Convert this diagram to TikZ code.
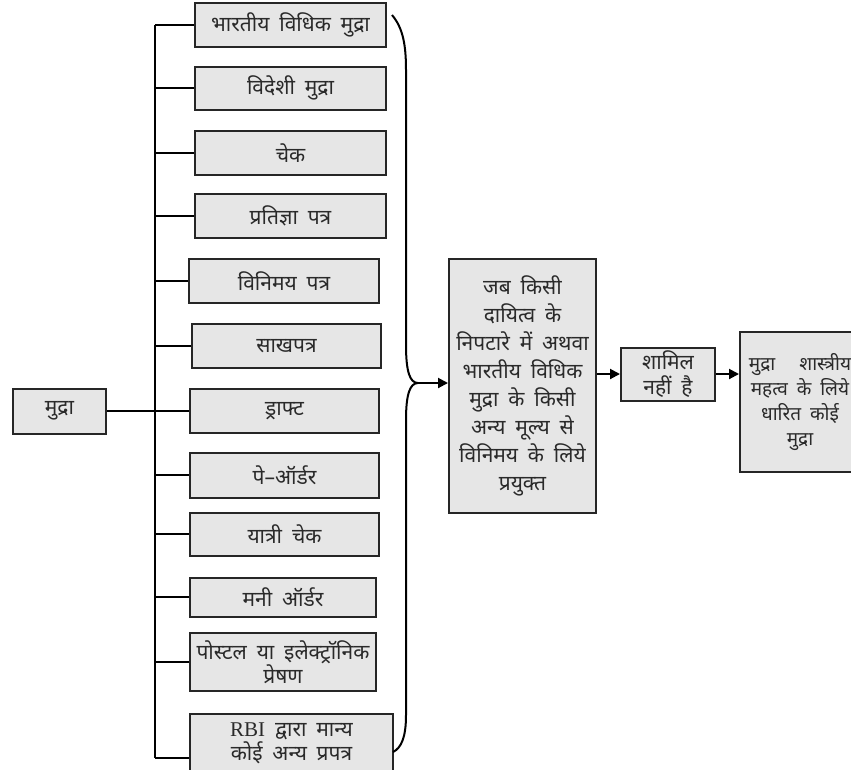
\documentclass[tikz,border=0pt]{standalone}
\usepackage{fontspec}
\usetikzlibrary{arrows.meta}
\newfontfamily\devfont[Script=Devanagari, WordSpace=1.8]{Noto Sans}
\newfontfamily\latfont{Liberation Serif}
\definecolor{boxfill}{HTML}{E6E6E6}
\definecolor{txt}{HTML}{2A2A2A}
\tikzset{
  box/.style={draw=black!85, line width=2pt, fill=boxfill, inner sep=0pt, align=center,
    text=txt, font={\devfont\fontsize{21}{27}\selectfont}},
  plain/.style={inner sep=0pt, align=center, text=txt, font={\devfont\fontsize{21}{26}\selectfont}},
  conn/.style={line width=2pt, black},
  arr/.style={conn, -{Triangle[length=10pt,width=10pt]}}
}
\begin{document}
\begin{tikzpicture}[x=1pt,y=-1pt]
\path[use as bounding box] (0,0) rectangle (851,769);
\clip (0,0) rectangle (851,769);
\fill[white] (0,0) rectangle (851,769);
% left column
\node[box, minimum width=191pt, minimum height=44pt] (b1) at (290.5,25) {भारतीय विधिक मुद्रा};
\node[box, minimum width=191pt, minimum height=43pt] (b2) at (290.5,88) {विदेशी मुद्रा};
\node[box, minimum width=191pt, minimum height=44pt] (b3) at (290.5,153) {चेक};
\node[box, minimum width=191pt, minimum height=44pt] (b4) at (290.5,216) {प्रतिज्ञा पत्र};
\node[box, minimum width=190pt, minimum height=44pt] (b5) at (284,281) {विनिमय पत्र};
\node[box, minimum width=189pt, minimum height=44pt] (b6) at (286.5,346) {साखपत्र};
\node[box, minimum width=189pt, minimum height=44pt] (b7) at (284.5,411) {ड्राफ्ट};
\node[box, minimum width=189pt, minimum height=45pt] (b8) at (284.5,475) {पे–ऑर्डर};
\node[box, minimum width=189pt, minimum height=43pt] (b9) at (284.5,534) {यात्री चेक};
\node[box, minimum width=186pt, minimum height=39pt] (b10) at (283,597) {मनी ऑर्डर};
\node[box, minimum width=186pt, minimum height=58pt, font={\devfont\fontsize{21}{24}\selectfont}] (b11) at (283,662) {पोस्टल या इलेक्ट्रॉनिक\\प्रेषण};
\node[box, minimum width=203pt, minimum height=88pt] (b12) at (291.5,758) {};
\node[plain, font={\devfont\fontsize{21}{24}\selectfont}] (b12t) at (291.5,743) {{\latfont RBI} द्वारा मान्य\\कोई अन्य प्रपत्र};
% root
\node[box, minimum width=93pt, minimum height=45pt] (mudra) at (59.5,411) {मुद्रा};
% trunk
\coordinate (trunkTop) at (155,25);
\coordinate (trunkBot) at (155,758);
\draw[conn] (trunkTop) -- (trunkBot);
\foreach \b in {b1,b2,b3,b4,b5,b6,b7,b8,b9,b10,b11,b12}
  \draw[conn] (\b.west -| trunkTop) -- (\b.west);
\draw[conn] (mudra.east) -- (mudra.east -| trunkTop);
% right part
\node[box, minimum width=147pt, minimum height=254pt, font={\devfont\fontsize{21}{28}\selectfont}] (big) at (522.5,386)
  {जब किसी\\दायित्व के\\निपटारे में अथवा\\भारतीय विधिक\\मुद्रा के किसी\\अन्य मूल्य से\\विनिमय के लिये\\प्रयुक्त};
\node[box, minimum width=94pt, minimum height=53pt, font={\devfont\fontsize{21}{25}\selectfont}] (shamil) at (668,374) {शामिल\\नहीं है};
\node[box, minimum width=120pt, minimum height=140pt, font={\devfont\fontsize{19}{25}\selectfont}] (last) at (800,402)
  {मुद्रा\hspace{24pt}शास्त्रीय\\महत्व के लिये\\धारित कोई\\मुद्रा};
% brace
\coordinate (braceTop) at (392,15);
\coordinate (braceTip) at (418,383);
\coordinate (braceBot) at (393,752);
\draw[conn] (braceTop) .. controls (403,28) and (406,45) .. (406,70) -- (406,345)
  .. controls (406,372) and (410,383) .. (braceTip)
  .. controls (410,383) and (406,394) .. (406,420) -- (406,715)
  .. controls (406,738) and (401,748) .. (braceBot);
\draw[arr] (braceTip) -- (braceTip -| big.west);
\draw[arr] (big.east |- shamil.west) -- (shamil.west);
\draw[arr] (shamil.east) -- (shamil.east -| last.west);
\end{tikzpicture}
\end{document}
